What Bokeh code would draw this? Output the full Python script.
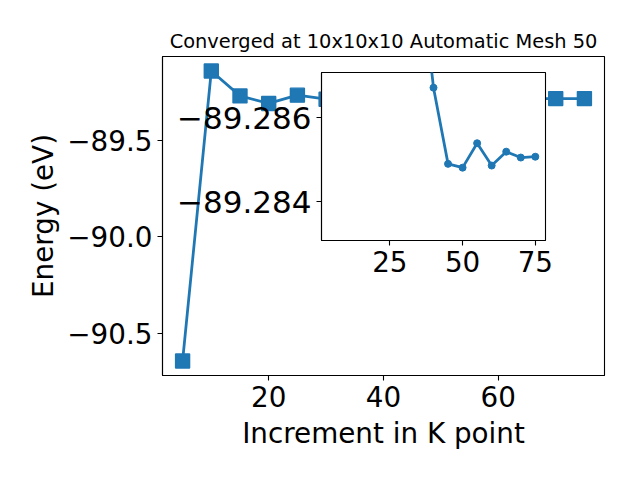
from bokeh.plotting import figure
from bokeh.models import Range1d, FixedTicker, CustomJSTickFormatter
from bokeh.layouts import column
from bokeh.embed import file_html
from bokeh.resources import INLINE

# ---- data ----
k_points = [5, 10, 15, 20, 25, 30, 35, 40, 45, 50, 55, 60, 65, 70, 75]
energy = [-90.644, -89.142, -89.271, -89.310, -89.267, -89.288, -89.2898,
          -89.28671, -89.28490, -89.28481, -89.28539, -89.28486, -89.28519,
          -89.28505, -89.28507]
inset_first = 6  # inset shows K points from 35 on

main_xticks = [20, 40, 60]
main_yticks = [-90.5, -90.0, -89.5]
inset_xticks = [25, 50, 75]
inset_yticks = [-89.286, -89.284]
inset_ylim = (-89.28308, -89.28707)   # inverted axis
x_lim = (1.5, 78.5)

title_text = "Converged at 10x10x10 Automatic Mesh 50"
x_label = "Increment in K point"
y_label = "Energy (eV)"

BLUE = "#1f77b4"
FONT = "DejaVu Sans"
LEFT_BORDER = 162
RIGHT_BORDER = 15


def style(fig, tick_size):
    fig.xgrid.visible = False
    fig.ygrid.visible = False
    fig.outline_line_color = "black"
    fig.outline_line_width = 1.1
    fig.outline_line_alpha = 1
    for ax in (fig.xaxis, fig.yaxis):
        ax.axis_line_color = "black"
        ax.axis_line_width = 1.1
        ax.major_tick_line_color = "black"
        ax.major_tick_line_width = 1.1
        ax.major_tick_out = 5
        ax.major_tick_in = 0
        ax.minor_tick_line_color = None
        ax.major_label_standoff = 5
        ax.major_label_text_font = FONT
        ax.major_label_text_font_size = tick_size
        ax.major_label_text_color = "black"
        ax.axis_label_text_font = FONT
        ax.axis_label_text_font_style = "normal"
        ax.axis_label_text_font_size = "27.8px"
        ax.axis_label_text_color = "black"


span = max(energy) - min(energy)
p = figure(frame_width=442, frame_height=319, output_backend="svg",
           toolbar_location=None,
           x_range=Range1d(*x_lim),
           y_range=Range1d(min(energy) - 0.05 * span, max(energy) + 0.05 * span),
           min_border_left=LEFT_BORDER, min_border_right=RIGHT_BORDER,
           min_border_top=56, min_border_bottom=84, title=title_text)
style(p, "27.8px")
p.title.text_font = FONT
p.title.text_font_size = "19.4px"
p.title.text_font_style = "normal"
p.title.align = "center"
p.title.text_color = "black"
p.title.standoff = 7
p.xaxis.axis_label = x_label
p.yaxis.axis_label = y_label
p.xaxis.axis_label_standoff = 7
p.yaxis.axis_label_standoff = 4
p.xaxis.ticker = FixedTicker(ticks=main_xticks)
p.yaxis.ticker = FixedTicker(ticks=main_yticks)
p.xaxis.formatter = CustomJSTickFormatter(code="return tick.toFixed(0);")
p.yaxis.formatter = CustomJSTickFormatter(
    code="return tick.toFixed(1).replace('-', '\\u2212');")
p.line(k_points, energy, line_color=BLUE, line_width=2.78)
p.scatter(k_points, energy, marker="square", size=14, fill_color=BLUE,
          line_color=BLUE, line_width=1.4)

ik = k_points[inset_first:]
ie = energy[inset_first:]
q = figure(frame_width=224, frame_height=168, output_backend="svg",
           toolbar_location=None,
           x_range=Range1d(*x_lim), y_range=Range1d(*inset_ylim),
           min_border_left=LEFT_BORDER, min_border_right=RIGHT_BORDER,
           min_border_top=10, min_border_bottom=50,
           styles={"position": "absolute", "left": "158.7px", "top": "62.3px"})
style(q, "27.8px")
q.yaxis.major_label_text_font_size = "31px"
q.border_fill_color = None
q.background_fill_color = "white"
q.xaxis.ticker = FixedTicker(ticks=inset_xticks)
q.yaxis.ticker = FixedTicker(ticks=inset_yticks)
q.xaxis.formatter = CustomJSTickFormatter(code="return tick.toFixed(0);")
q.yaxis.formatter = CustomJSTickFormatter(
    code="return tick.toFixed(3).replace('-', '\\u2212');")
q.line(ik, ie, line_color=BLUE, line_width=2.78)
q.scatter(ik, ie, marker="circle", size=7, fill_color=BLUE,
          line_color=BLUE, line_width=1)

layout = column(p, q)
open("out.html", "w").write(file_html(layout, INLINE))
